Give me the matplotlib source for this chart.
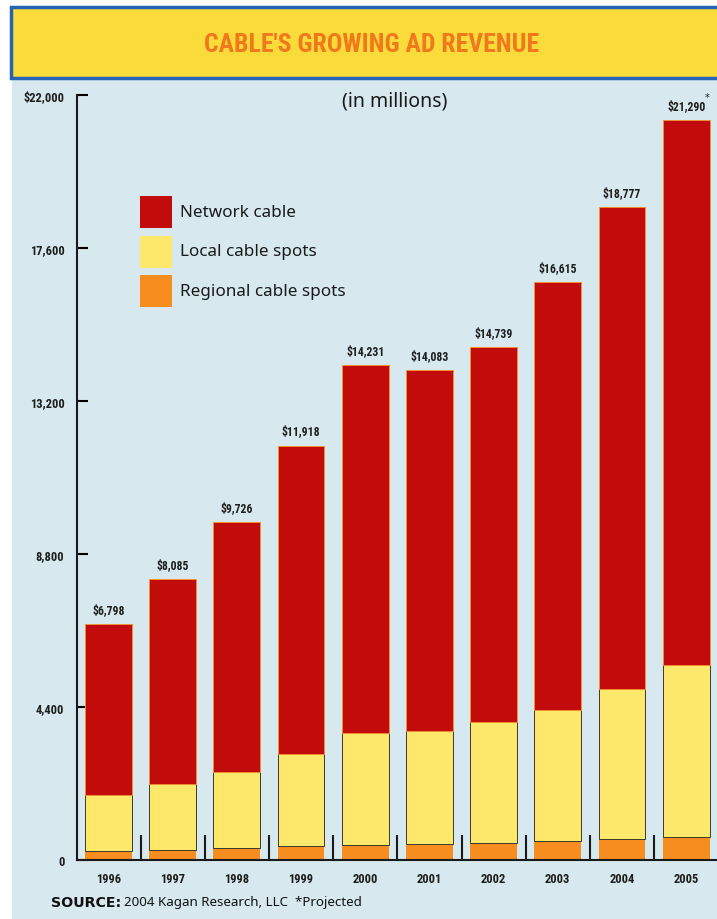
import numpy as np
import matplotlib
matplotlib.use('Agg')
import matplotlib.pyplot as plt
from matplotlib.patches import Rectangle

years = ['1996', '1997', '1998', '1999', '2000', '2001', '2002', '2003', '2004', '2005']
totals = np.array([6798, 8085, 9726, 11918, 14231, 14083, 14739, 16615, 18777, 21290])
local_spots = np.array([1628, 1890, 2195, 2647, 3213, 3240, 3480, 3768, 4305, 4947])
regional_spots = np.array([250, 296, 345, 393, 440, 460, 480, 546, 604, 670])
network = totals - local_spots - regional_spots
total_labels = ['$6,798', '$8,085', '$9,726', '$11,918', '$14,231', '$14,083',
                '$14,739', '$16,615', '$18,777', '$21,290']
yticks = [0, 4400, 8800, 13200, 17600, 22000]
ytick_labels = ['0', '4,400', '8,800', '13,200', '17,600', '$22,000']

RED = '#c20b0b'
YELLOW = '#fde86c'
ORANGE = '#f78d1e'
BG = '#d7e9ee'
NARROW = ['Roboto Condensed', 'Roboto', 'DejaVu Sans']
SANS = ['Noto Sans', 'DejaVu Sans']

W, H = 717, 920
fig = plt.figure(figsize=(W / 100, H / 100), dpi=100, facecolor='white')

def px(x):
    return x / W

def py(y):
    return 1 - y / H

# background panel and title banner
fig.add_artist(Rectangle((px(12), 0), 1, py(80), transform=fig.transFigure,
                         facecolor=BG, edgecolor='none', zorder=0))
fig.add_artist(Rectangle((px(11), py(79)), px(720 - 11), (79 - 8) / H,
                         transform=fig.transFigure, facecolor='#f9dc3a',
                         edgecolor='#2563b3', linewidth=2.5, zorder=1))
fig.text(px(372), py(45), "CABLE'S GROWING AD REVENUE", ha='center', va='center',
         fontsize=18.5, fontweight='bold', color='#f2781e', family=NARROW)

ax = fig.add_axes([px(77), py(861), px(717 - 77), (861 - 96) / H])
ax.set_facecolor('none')
x = np.arange(len(years))
bw = 0.73
ax.bar(x, regional_spots, bw, color=ORANGE, edgecolor='none', zorder=2)
ax.bar(x, local_spots, bw, bottom=regional_spots, color=YELLOW,
       edgecolor='#3a3a2a', linewidth=0.7, zorder=2)
ax.bar(x, network, bw, bottom=regional_spots + local_spots, color=RED,
       edgecolor='#f09030', linewidth=0.7, zorder=2)

for i, t in enumerate(totals):
    ax.text(x[i], t + 230, total_labels[i], ha='center', va='bottom',
            fontsize=8.5, fontweight='bold', color='#1e1e1e', family=NARROW,
            clip_on=False)
ax.text(x[-1] + 0.32, totals[-1] + 520, '*', ha='center', va='bottom',
        fontsize=7, color='#1e1e1e', clip_on=False)

ax.set_xlim(-0.49, 9.48)
ax.set_ylim(0, 22000)
for s in ['top', 'right']:
    ax.spines[s].set_visible(False)
ax.spines['left'].set_linewidth(1.5)
ax.spines['bottom'].set_linewidth(1.5)
ax.spines['left'].set_color('#1a1a1a')
ax.spines['bottom'].set_color('#1a1a1a')

ax.set_yticks(yticks)
ax.set_yticklabels(ytick_labels, fontsize=9, fontweight='bold', family=NARROW,
                   color='#1e1e1e')
ax.tick_params(axis='y', direction='in', length=8, width=1.5, pad=9)

ax.set_xticks(x)
ax.set_xticklabels(years, fontsize=9, fontweight='bold', family=NARROW,
                   color='#1e1e1e')
ax.tick_params(axis='x', which='major', length=0, pad=9)
ax.set_xticks(x[:-1] + 0.5, minor=True)
ax.tick_params(axis='x', which='minor', direction='in', length=18, width=1.5,
               color='#1a1a1a')

# legend
legend_items = [('Network cable', RED), ('Local cable spots', YELLOW),
                ('Regional cable spots', ORANGE)]
for k, (name, col) in enumerate(legend_items):
    top = 197 + k * 39.5
    fig.add_artist(Rectangle((px(140), py(top + 32)), px(32), 32 / H,
                             transform=fig.transFigure, facecolor=col,
                             edgecolor='none', zorder=3))
    fig.text(px(180), py(top + 16), name, ha='left', va='center',
             fontsize=12.3, color='#1a1a1a', family=SANS)

fig.text(px(395), py(101), '(in millions)', ha='center', va='center',
         fontsize=14, color='#1a1a1a', family=SANS)

fig.text(px(51), py(903), 'SOURCE:', ha='left', va='center', fontsize=10.2,
         fontweight='bold', color='#111111', family=['DejaVu Sans'])
fig.text(px(124), py(903), '2004 Kagan Research, LLC  *Projected', ha='left',
         va='center', fontsize=9.6, color='#111111', family=SANS)

fig.savefig('out.png', dpi=100, facecolor=fig.get_facecolor())
